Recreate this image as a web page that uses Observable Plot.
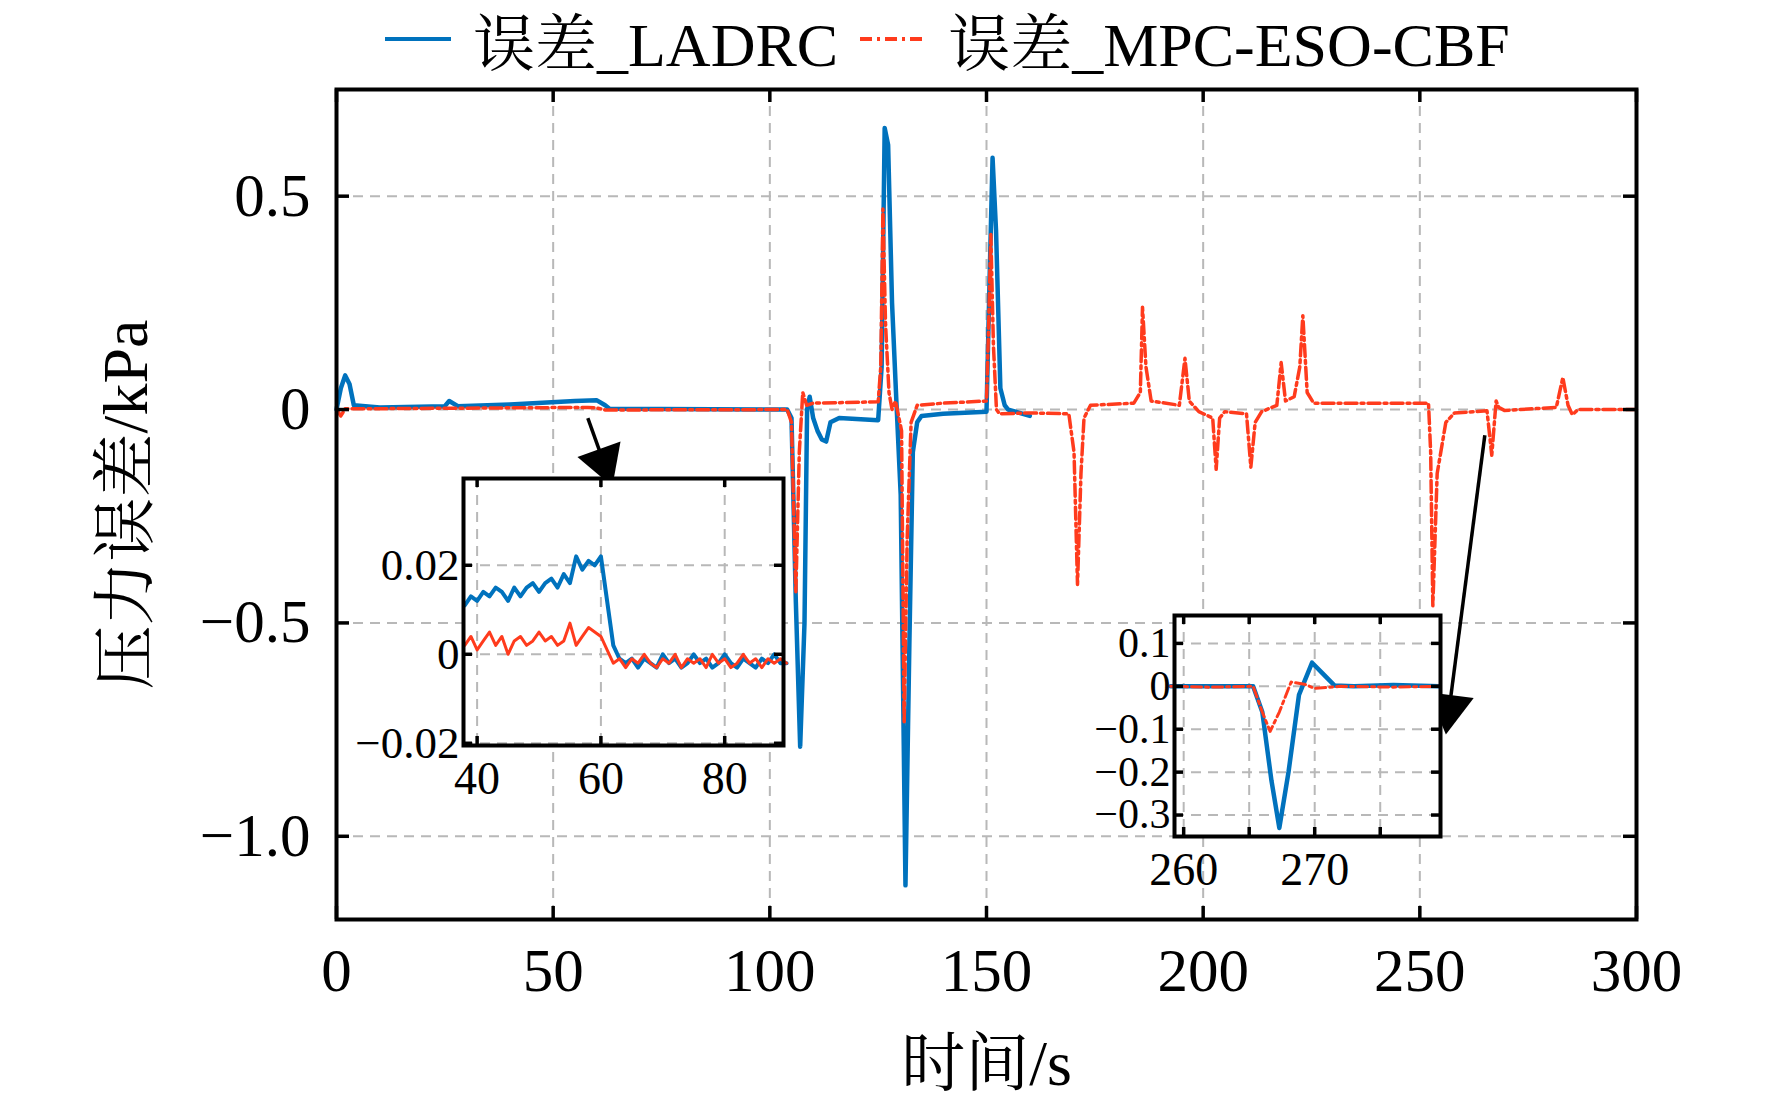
<!DOCTYPE html>
<html>
<head>
<meta charset="utf-8">
<script src="https://cdn.jsdelivr.net/npm/d3@7"></script>
<script src="https://cdn.jsdelivr.net/npm/@observablehq/plot@0.6"></script>
<style>
  body { margin: 0; background: white; }
  #wrap { position: relative; width: 1772px; height: 1107px; font-family: "Liberation Serif", "Noto Serif CJK SC", "Noto Sans CJK SC", serif; }
  #wrap > svg, #wrap > div { position: absolute; }
  #legend { top: 0; left: 385px; height: 78px; display: flex; align-items: center; font-size: 62px; white-space: nowrap; }
  #legend svg { margin: 0 18px 0 0; }
</style>
</head>
<body>
<div id="wrap">
  <div id="legend">
    <svg width="70" height="20"><line x1="0" x2="66" y1="10" y2="10" stroke="#0072bd" stroke-width="4"/></svg>
    <span style="margin-right:22px">误差_LADRC</span>
    <svg width="70" height="20"><line x1="0" x2="66" y1="10" y2="10" stroke="#ff3b1d" stroke-width="4" stroke-dasharray="12,5,3,5"/></svg>
    <span>误差_MPC-ESO-CBF</span>
  </div>
</div>
<script>
// courbes principales (s, kPa)
const ladrcT = [0,1,2,3,4,10,25,26,28,40,55,60,62,63,104,105,106,107,108,108.6,109.2,110,111,112,113,114,116,125,125.8,126.5,127.3,128.2,129.2,130.2,131.3,132.2,133,134,135,140,150,150.7,151.4,152.2,153.2,154.2,155,160];
const ladrcV = [0,0.05,0.08,0.06,0.01,0.005,0.008,0.02,0.008,0.012,0.02,0.022,0.01,0.002,0,-0.02,-0.45,-0.79,-0.5,0,0.03,-0.02,-0.05,-0.07,-0.075,-0.03,-0.02,-0.025,0.1,0.66,0.62,0.25,0.02,-0.2,-1.115,-0.55,-0.1,-0.03,-0.015,-0.01,-0.005,0.3,0.59,0.42,0.05,0.01,0.0,-0.015];

const mpcT = [0,1,2,10,40,58,60,62,104,105,106,106.8,107.6,108.5,110,125,125.6,126.1,126.7,127.5,128.2,129,130.4,131,131.7,132.6,134,140,150,150.5,151,151.6,152.3,153,160,169,170.2,171,171.8,172.5,174,184,185.5,186,186.8,188,194.5,195.8,196.8,199,202.2,203,203.8,205,210,211,212,213.5,217,218,219,221,222.3,223,224,225.5,240,252,252.5,253,254,256,258,265.5,266.6,267.6,268.2,269.5,281.5,283,284.2,285.2,286.5,300];
const mpcV = [0,-0.015,0.002,0.002,0.004,0.005,0.004,-0.001,0,-0.03,-0.43,-0.1,0.04,0.01,0.015,0.018,0.1,0.47,0.2,0.04,0.0,0.02,-0.05,-0.735,-0.3,-0.03,0.01,0.015,0.02,0.2,0.41,0.15,0.0,-0.01,-0.008,-0.01,-0.1,-0.41,-0.15,-0.02,0.01,0.015,0.04,0.24,0.1,0.02,0.01,0.12,0.02,-0.005,-0.02,-0.14,-0.02,-0.005,-0.01,-0.135,-0.03,-0.005,0.01,0.11,0.02,0.03,0.1,0.22,0.04,0.015,0.015,0.015,-0.1,-0.46,-0.15,-0.03,-0.008,-0.003,-0.107,0.02,0.005,-0.002,0.005,0.075,0.01,-0.012,0.0,0];

// zoom 1 : t = 38 ... 90 (pas de 1 s)
const zoom1Start = 38;
const zoom1Ladrc = [0.011,0.013,0.012,0.014,0.013,0.015,0.014,0.012,0.015,0.013,0.015,0.016,0.014,0.016,0.017,0.015,0.018,0.016,0.022,0.019,0.021,0.020,0.022,0.012,0.002,-0.001,
  -0.002,-0.001,-0.003,-0.001,-0.002,-0.003,0,-0.002,-0.001,-0.003,-0.002,0,-0.002,-0.001,-0.003,-0.002,0,-0.002,-0.003,-0.001,-0.002,-0.003,-0.001,-0.002,0,-0.002,-0.002];
const zoom1Mpc = [0.002,0.004,0.001,0.003,0.005,0.002,0.004,0.000,0.003,0.004,0.002,0.003,0.005,0.003,0.004,0.002,0.003,0.007,0.002,0.004,0.006,0.005,0.004,0.001,-0.002,-0.001,
  -0.003,-0.001,-0.002,0,-0.002,-0.003,-0.001,-0.002,0,-0.003,-0.001,-0.002,-0.001,-0.003,0,-0.002,-0.001,-0.003,-0.002,0,-0.002,-0.001,-0.003,-0.001,-0.002,-0.001,-0.002];

// zoom 2
const zoom2LadrcT = [259,262,265.3,266,266.7,267.3,268,268.8,269.8,270.6,271.5,273,276,279.5];
const zoom2LadrcV = [0,0,0,-0.06,-0.22,-0.33,-0.2,-0.02,0.055,0.03,0.002,0.0,0.003,0];
const zoom2MpcT = [259,262,265.3,266,266.6,267.3,268.2,269.2,270,272,276,279.5];
const zoom2MpcV = [0,-0.002,0,-0.06,-0.105,-0.06,0.01,0.005,-0.005,0.0,-0.002,0];

// fleches (coordonnées du graphe principal)
const arrows = [
  {x1: 58, y1: -0.02, x2: 61.6, y2: -0.122},
  {x1: 265, y1: -0.06, x2: 256.8, y2: -0.7}
];

const blue = "#0072bd", red = "#ff3b1d";
const font = '"Liberation Serif", "Noto Serif CJK SC", "Noto Sans CJK SC", serif';
const wrap = document.getElementById("wrap");

const series = (T, V) => T.map((t, i) => ({t, v: V[i]}));
const minus = s => s.replace("-", "\u2212");

// petites graduations vers l'intérieur sur les 4 côtés
function innerTicks(xTicks, yTicks, xd, yd, w, h, len) {
  const lx = len / w * (xd[1] - xd[0]), ly = len / h * (yd[1] - yd[0]);
  return [
    Plot.ruleX(xTicks, {x: d => d, y1: yd[0], y2: yd[0] + ly, stroke: "black", strokeWidth: 3.5}),
    Plot.ruleX(xTicks, {x: d => d, y1: yd[1], y2: yd[1] - ly, stroke: "black", strokeWidth: 3.5}),
    Plot.ruleY(yTicks, {y: d => d, x1: xd[0], x2: xd[0] + lx, stroke: "black", strokeWidth: 3.5}),
    Plot.ruleY(yTicks, {y: d => d, x1: xd[1], x2: xd[1] - lx, stroke: "black", strokeWidth: 3.5})
  ];
}

function gridMarks(xTicks, yTicks) {
  return [
    Plot.gridX(xTicks, {stroke: "#b8b8b8", strokeOpacity: 1, strokeWidth: 2, strokeDasharray: "10,7"}),
    Plot.gridY(yTicks, {stroke: "#b8b8b8", strokeOpacity: 1, strokeWidth: 2, strokeDasharray: "10,7"})
  ];
}

// --- graphe principal ---
const mL = 336, mR = 136, mT = 89, mB = 188;
const W = 1772, H = 1107;
const xd = [0, 300], yd = [-1.195, 0.75];
const xTicks = [0, 50, 100, 150, 200, 250, 300], yTicks = [-1, -0.5, 0, 0.5];
const pw = W - mL - mR, ph = H - mT - mB;
const sx = pw / (xd[1] - xd[0]), sy = ph / (yd[1] - yd[0]);

const heads = arrows.map(a => ({
  x: a.x2, y: a.y2,
  rot: Math.atan2((a.x2 - a.x1) * sx, -(a.y1 - a.y2) * sy) * 180 / Math.PI
}));

const main = Plot.plot({
  width: W, height: H,
  marginLeft: mL, marginRight: mR, marginTop: mT, marginBottom: mB,
  style: {fontFamily: font, background: "transparent"},
  x: {domain: xd},
  y: {domain: yd},
  marks: [
    ...gridMarks(xTicks.slice(1, -1), yTicks),
    Plot.line(series(ladrcT, ladrcV), {x: "t", y: "v", stroke: blue, strokeWidth: 4.5}),
    Plot.line(series(mpcT, mpcV), {x: "t", y: "v", stroke: red, strokeWidth: 3.5, strokeDasharray: "12,4,3,4"}),
    Plot.link(arrows, {x1: "x1", y1: "y1", x2: "x2", y2: "y2", stroke: "black", strokeWidth: 3.5}),
    Plot.dot(heads, {x: "x", y: "y", symbol: "triangle", r: 17, fill: "black", rotate: "rot"}),
    ...innerTicks(xTicks, yTicks, xd, yd, pw, ph, 13),
    Plot.frame({stroke: "black", strokeWidth: 4}),
    Plot.axisX(xTicks, {tickSize: 0, tickPadding: 28, fontSize: 61, label: "时间/s", labelAnchor: "center", labelArrow: "none", labelOffset: 165}),
    Plot.axisY(yTicks, {tickSize: 0, tickPadding: 26, fontSize: 61, tickFormat: d => d === 0 ? "0" : minus(d.toFixed(1)), label: "压力误差/kPa", labelAnchor: "center", labelArrow: "none", labelOffset: 235})
  ]
});
main.style.left = "0px"; main.style.top = "0px";
wrap.appendChild(main);
main.querySelectorAll("[aria-label='x-axis label'] text, [aria-label='y-axis label'] text").forEach(t => t.setAttribute("font-size", "64"));

// --- encarts ---
function inset(opts) {
  const {left, top, w, h, xd, yd, xTicks, xLabels, yTicks, fmt, lines} = opts;
  const ml = 175, mr = 8, mt = 8, mb = 78;
  const p = Plot.plot({
    width: w + ml + mr, height: h + mt + mb,
    marginLeft: ml, marginRight: mr, marginTop: mt, marginBottom: mb,
    style: {fontFamily: font, background: "transparent", overflow: "visible"},
    x: {domain: xd}, y: {domain: yd},
    marks: [
      Plot.frame({fill: "white", stroke: null}),
      ...gridMarks(xTicks, yTicks),
      ...lines,
      ...innerTicks(xTicks, yTicks, xd, yd, w, h, 9),
      Plot.frame({stroke: "black", strokeWidth: 4}),
      Plot.axisX(xLabels, {tickSize: 0, tickPadding: 16, fontSize: 46, label: null}),
      Plot.axisY(yTicks, {tickSize: 0, tickPadding: 4, fontSize: opts.yFont, tickFormat: fmt, label: null})
    ]
  });
  p.style.left = (left - ml) + "px"; p.style.top = (top - mt) + "px";
  wrap.appendChild(p);
}

inset({
  left: 463, top: 478, w: 320, h: 267,
  xd: [37.8, 89.5], yd: [-0.0205, 0.0395],
  xTicks: [40, 60, 80], xLabels: [40, 60, 80], yTicks: [-0.02, 0, 0.02], yFont: 45,
  fmt: d => d === 0 ? "0" : minus(d.toFixed(2)),
  lines: [
    Plot.line(zoom1Ladrc.map((v, i) => ({t: zoom1Start + i, v})), {x: "t", y: "v", stroke: blue, strokeWidth: 4}),
    Plot.line(zoom1Mpc.map((v, i) => ({t: zoom1Start + i, v})), {x: "t", y: "v", stroke: red, strokeWidth: 3})
  ]
});

inset({
  left: 1174, top: 615, w: 266, h: 221,
  xd: [259.3, 279.6], yd: [-0.35, 0.165],
  xTicks: [260, 265, 270, 275], xLabels: [260, 270], yTicks: [-0.3, -0.2, -0.1, 0, 0.1], yFont: 42,
  fmt: d => d === 0 ? "0" : minus(d.toFixed(1)),
  lines: [
    Plot.line(series(zoom2LadrcT, zoom2LadrcV), {x: "t", y: "v", stroke: blue, strokeWidth: 4.5}),
    Plot.line(series(zoom2MpcT, zoom2MpcV), {x: "t", y: "v", stroke: red, strokeWidth: 3, strokeDasharray: "10,4,3,4"})
  ]
});
</script>
</body>
</html>
